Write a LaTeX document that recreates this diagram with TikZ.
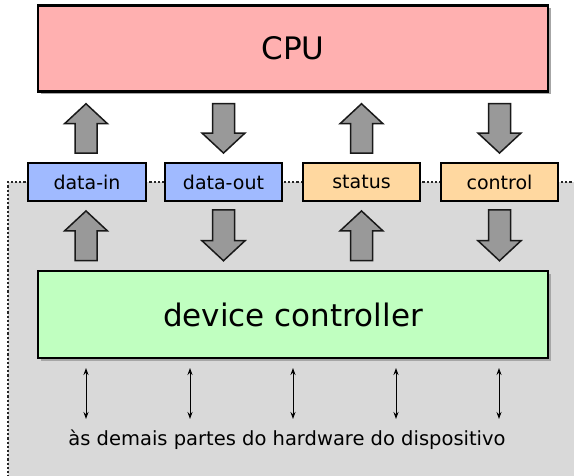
\documentclass[tikz,border=0pt]{standalone}
\usepackage{fontspec}
\setmainfont{DejaVu Sans}
\usetikzlibrary{calc,arrows.meta,shadows}
\definecolor{cpufill}{RGB}{255,176,176}
\definecolor{datafill}{RGB}{160,186,255}
\definecolor{ctlfill}{RGB}{255,216,160}
\definecolor{devfill}{RGB}{192,255,192}
\definecolor{bggray}{RGB}{217,217,217}
\definecolor{arrgray}{RGB}{153,153,153}
\tikzset{
 bigbox/.style={draw=black, line width=2.5pt, minimum width=510pt, inner sep=0pt,
   font=\fontsize{31}{36}\selectfont,
   drop shadow={shadow xshift=3pt, shadow yshift=-3pt, fill=black!35, opacity=1}},
 regbox/.style={draw=black, line width=2.4pt, minimum width=117.5pt, minimum height=37.5pt,
   inner sep=0pt, font=\fontsize{19}{22}\selectfont},
 bigarrow/.style={draw=black!90, fill=arrgray, line width=1.5pt, line join=miter},
 hwarrow/.style={line width=1pt, {Stealth[length=7pt,width=5pt]}-{Stealth[length=7pt,width=5pt]}},
 bgline/.style={draw=black!85, line width=1.2pt, dash pattern=on 2.2pt off 2pt},
 hwtext/.style={inner sep=0pt, font=\fontsize{19.5}{23}\selectfont},
}
\newcommand\barrow[2]{%
  \coordinate (bt) at (#1);
  \coordinate (bh) at (#2);
  \coordinate (bH) at ($(bh)!20pt!(bt)$);
  \draw[bigarrow] ($(bt)!11pt!90:(bh)$) -- ($(bH)!11pt!90:(bh)$) -- ($(bH)!21.5pt!90:(bh)$)
    -- (bh) -- ($(bH)!21.5pt!-90:(bh)$) -- ($(bH)!11pt!-90:(bh)$) -- ($(bt)!11pt!-90:(bh)$) -- cycle;}
\begin{document}
\begin{tikzpicture}[x=1pt,y=-1pt]
\useasboundingbox (0,0) rectangle (574,476);
% background region
\fill[bggray] (8,182) rectangle (580,482);
\draw[bgline] (580,182) -- (8,182) -- (8,482);
% main boxes
\node[bigbox, fill=cpufill, minimum height=86pt] (cpu) at (293,48.5) {CPU};
\node[bigbox, fill=devfill, minimum height=87pt] (dev) at (293,314.5) {device controller};
% registers
\node[regbox, fill=datafill] (din) at (87,182) {data-in};
\node[regbox, fill=datafill] (dout) at (223.5,182) {data-out};
\node[regbox, fill=ctlfill] (stat) at (361.5,182) {status};
\node[regbox, fill=ctlfill] (ctl) at (499.5,182) {control};
% arrows registers <-> CPU
\barrow{$(din.north)+(-1pt,9pt)$}{$(din.north |- cpu.south)+(-1pt,-11pt)$}
\barrow{$(dout.north |- cpu.south)+(0pt,-11pt)$}{$(dout.north)+(0pt,9pt)$}
\barrow{$(stat.north)+(0pt,9pt)$}{$(stat.north |- cpu.south)+(0pt,-11pt)$}
\barrow{$(ctl.north |- cpu.south)+(0pt,-11pt)$}{$(ctl.north)+(0pt,9pt)$}
% arrows device controller <-> registers
\barrow{$(din.south |- dev.north)+(-1pt,9pt)$}{$(din.south)+(-1pt,-9pt)$}
\barrow{$(dout.south)+(0pt,-8pt)$}{$(dout.south |- dev.north)+(0pt,9pt)$}
\barrow{$(stat.south |- dev.north)+(0pt,9pt)$}{$(stat.south)+(0pt,-9pt)$}
\barrow{$(ctl.south)+(0pt,-8pt)$}{$(ctl.south |- dev.north)+(0pt,9pt)$}
% links to the rest of the hardware
\node[hwtext] (hw) at (287,440) {às demais partes do hardware do dispositivo};
\foreach \i/\x in {1/86,2/190,3/293,4/396,5/499}{
  \coordinate (a\i) at (\x,368);
  \coordinate (b\i) at (\x,419);
  \draw[hwarrow] (a\i) -- (b\i);
}
\end{tikzpicture}
\end{document}
